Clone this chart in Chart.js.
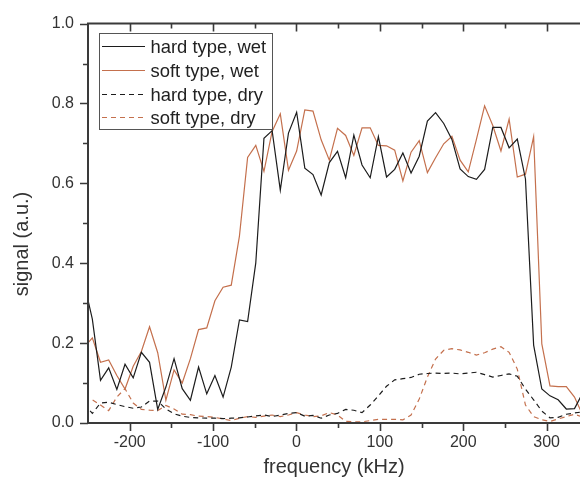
<!DOCTYPE html>
<html><head><meta charset="utf-8">
<script src="https://cdn.jsdelivr.net/npm/chart.js@4.4.1/dist/chart.umd.min.js"></script>
<style>html,body{margin:0;padding:0;background:#fff}canvas{display:block}</style>
</head><body>
<canvas id="c" width="580" height="485"></canvas>
<script>
const freq = [-254.6,-244.8,-235,-225.2,-215.4,-205.6,-195.8,-186,-176.2,-166.4,-156.6,-146.8,-137,-127.2,-117.4,-107.6,-97.8,-88,-78.2,-68.4,-58.6,-48.8,-39,-29.2,-19.4,-9.6,0.2,10,19.8,29.6,39.4,49.2,59,68.8,78.6,88.4,98.2,108,117.8,127.6,137.4,147.2,157,166.8,176.6,186.4,196.2,206,215.8,225.6,235.4,245.2,255,264.8,274.6,284.4,294.2,304,313.8,323.6,333.4,343.2];
const hardWet = [0.35,0.26,0.107,0.138,0.084,0.147,0.113,0.177,0.152,0.034,0.090,0.161,0.086,0.057,0.140,0.073,0.119,0.065,0.140,0.258,0.254,0.401,0.713,0.732,0.583,0.726,0.778,0.638,0.622,0.571,0.652,0.680,0.614,0.721,0.646,0.614,0.717,0.616,0.635,0.676,0.626,0.668,0.756,0.777,0.750,0.710,0.636,0.617,0.610,0.635,0.740,0.740,0.689,0.711,0.611,0.195,0.085,0.068,0.058,0.035,0.036,0.075];
const softWet = [0.19,0.213,0.152,0.158,0.119,0.085,0.142,0.179,0.241,0.176,0.057,0.133,0.100,0.161,0.234,0.238,0.306,0.340,0.345,0.468,0.665,0.695,0.630,0.730,0.774,0.633,0.681,0.784,0.781,0.709,0.658,0.738,0.720,0.670,0.739,0.739,0.695,0.694,0.683,0.606,0.678,0.707,0.627,0.664,0.699,0.718,0.658,0.629,0.710,0.794,0.745,0.681,0.761,0.616,0.623,0.717,0.198,0.093,0.091,0.091,0.065,0.020];
const hardDry = [0.047,0.024,0.050,0.052,0.046,0.041,0.037,0.040,0.055,0.055,0.035,0.023,0.017,0.014,0.013,0.012,0.012,0.011,0.012,0.013,0.015,0.018,0.020,0.016,0.020,0.024,0.026,0.017,0.019,0.012,0.020,0.024,0.034,0.032,0.026,0.045,0.068,0.092,0.108,0.111,0.114,0.122,0.124,0.125,0.124,0.125,0.123,0.125,0.127,0.121,0.115,0.119,0.123,0.117,0.085,0.058,0.030,0.013,0.014,0.022,0.025,0.028];
const softDry = [0.065,0.058,0.045,0.031,0.065,0.086,0.050,0.034,0.032,0.031,0.044,0.035,0.022,0.021,0.017,0.016,0.014,0.010,0.006,0.012,0.016,0.014,0.017,0.020,0.016,0.020,0.026,0.020,0.016,0.018,0.026,0.020,0.004,0.003,0.003,0.006,0.009,0.009,0.009,0.008,0.020,0.060,0.115,0.160,0.182,0.186,0.183,0.177,0.170,0.176,0.185,0.191,0.177,0.135,0.045,0.016,0.008,0.004,0.010,0.016,0.022,0.015];
const xTickLabels = [-200,-100,0,100,200,300];
const xMinorTicks = [-150,-50,50,150,250];
const yTickLabels = [0,0.2,0.4,0.6,0.8,1.0];
const yMinorTicks = [0.1,0.3,0.5,0.7,0.9];
const seriesNames = ['hard type, wet','soft type, wet','hard type, dry','soft type, dry'];
const xTitle = 'frequency (kHz)';
const yTitle = 'signal (a.u.)';

const BLACK = '#1c1c1c', ORANGE = '#c4704d', AXIS = '#3a3a3a', TEXT = '#333333';
const FONT = '"Liberation Sans", Arial, Helvetica, sans-serif';

function pts(vals){ return freq.map((f,i)=>({x:f, y:vals[i]})); }

const framePlugin = {
  id:'frame',
  afterDatasetsDraw(chart){
    const {ctx, chartArea:a, scales:{x, y}} = chart;
    ctx.save();
    ctx.strokeStyle = AXIS; ctx.lineWidth = 2; ctx.lineCap = 'butt';
    ctx.beginPath();
    ctx.moveTo(a.left-1, a.top); ctx.lineTo(a.right+2, a.top);
    ctx.moveTo(a.left, a.top); ctx.lineTo(a.left, a.bottom);
    ctx.moveTo(a.left-1, a.bottom); ctx.lineTo(a.right+2, a.bottom);
    ctx.stroke();
    ctx.beginPath();
    const xt = (arr, len) => arr.forEach(v => {
      const p = Math.round(x.getPixelForValue(v)) + 0.5;
      ctx.moveTo(p, a.bottom); ctx.lineTo(p, a.bottom + len);
      ctx.moveTo(p, a.top); ctx.lineTo(p, a.top + len);
    });
    const yt = (arr, len) => arr.forEach(v => {
      const p = Math.round(y.getPixelForValue(v)) + 0.5;
      ctx.moveTo(a.left, p); ctx.lineTo(a.left - len, p);
    });
    ctx.lineWidth = 1.6;
    xt(xTickLabels, 8); xt(xMinorTicks, 5);
    yt(yTickLabels, 8); yt(yMinorTicks, 5);
    ctx.stroke();
    // y title
    ctx.fillStyle = TEXT;
    ctx.font = '20px ' + FONT;
    ctx.textAlign = 'center'; ctx.textBaseline = 'middle';
    ctx.translate(22, 244); ctx.rotate(-Math.PI/2);
    ctx.fillText(yTitle, 0, 0);
    ctx.restore();
  },
  afterDraw(chart){
    const ctx = chart.ctx;
    ctx.save();
    const bx = 99.5, by = 33.5, bw = 173, bh = 96;
    ctx.fillStyle = '#fff';
    ctx.fillRect(bx, by, bw, bh);
    ctx.strokeStyle = '#555'; ctx.lineWidth = 1;
    ctx.strokeRect(bx, by, bw, bh);
    ctx.font = '18.4px ' + FONT;
    ctx.textAlign = 'left'; ctx.textBaseline = 'middle';
    chart.data.datasets.forEach((ds, k) => {
      const ry = Math.round(46 + k*23.8) + 0.5;
      ctx.strokeStyle = ds.borderColor; ctx.lineWidth = 1.2;
      ctx.setLineDash(ds.borderDash || []);
      ctx.beginPath(); ctx.moveTo(102, ry); ctx.lineTo(145, ry); ctx.stroke();
      ctx.setLineDash([]);
      ctx.fillStyle = '#222';
      ctx.fillText(ds.label, 150.5, ry + 1);
    });
    ctx.restore();
  }
};

new Chart(document.getElementById('c'), {
  type: 'line',
  data: {
    datasets: [
      {label: seriesNames[0], data: pts(hardWet), borderColor: BLACK, borderWidth: 1.2},
      {label: seriesNames[1], data: pts(softWet), borderColor: ORANGE, borderWidth: 1.2},
      {label: seriesNames[2], data: pts(hardDry), borderColor: BLACK, borderWidth: 1.2, borderDash: [5,4]},
      {label: seriesNames[3], data: pts(softDry), borderColor: ORANGE, borderWidth: 1.2, borderDash: [5,4]}
    ]
  },
  options: {
    responsive: false, animation: false, devicePixelRatio: 1,
    layout: {padding: {top: 20, right: 0, left: 0, bottom: 0}},
    plugins: {legend: {display: false}, tooltip: {enabled: false}},
    elements: {point: {radius: 0}, line: {tension: 0, fill: false}},
    scales: {
      x: {
        type: 'linear', min: -250, max: 340,
        grid: {display: false, drawTicks: false}, border: {display: false},
        ticks: {font: {family: FONT, size: 16}, color: TEXT, padding: 10, maxRotation: 0, autoSkip: false,
                callback: v => String(v)},
        afterBuildTicks: s => { s.ticks = xTickLabels.map(v => ({value: v})); },
        afterFit: s => { s.height = 62; },
        title: {display: true, text: xTitle, font: {family: FONT, size: 20}, color: TEXT, padding: {top: 0, bottom: 6}}
      },
      y: {
        type: 'linear', min: 0, max: 1,
        grid: {display: false, drawTicks: false}, border: {display: false},
        ticks: {font: {family: FONT, size: 16}, color: TEXT, padding: 14, autoSkip: false,
                callback: v => Number(v).toFixed(1)},
        afterBuildTicks: s => { s.ticks = yTickLabels.map(v => ({value: v})); },
        afterFit: s => { s.width = 88; }
      }
    }
  },
  plugins: [framePlugin]
});
</script>
</body></html>
